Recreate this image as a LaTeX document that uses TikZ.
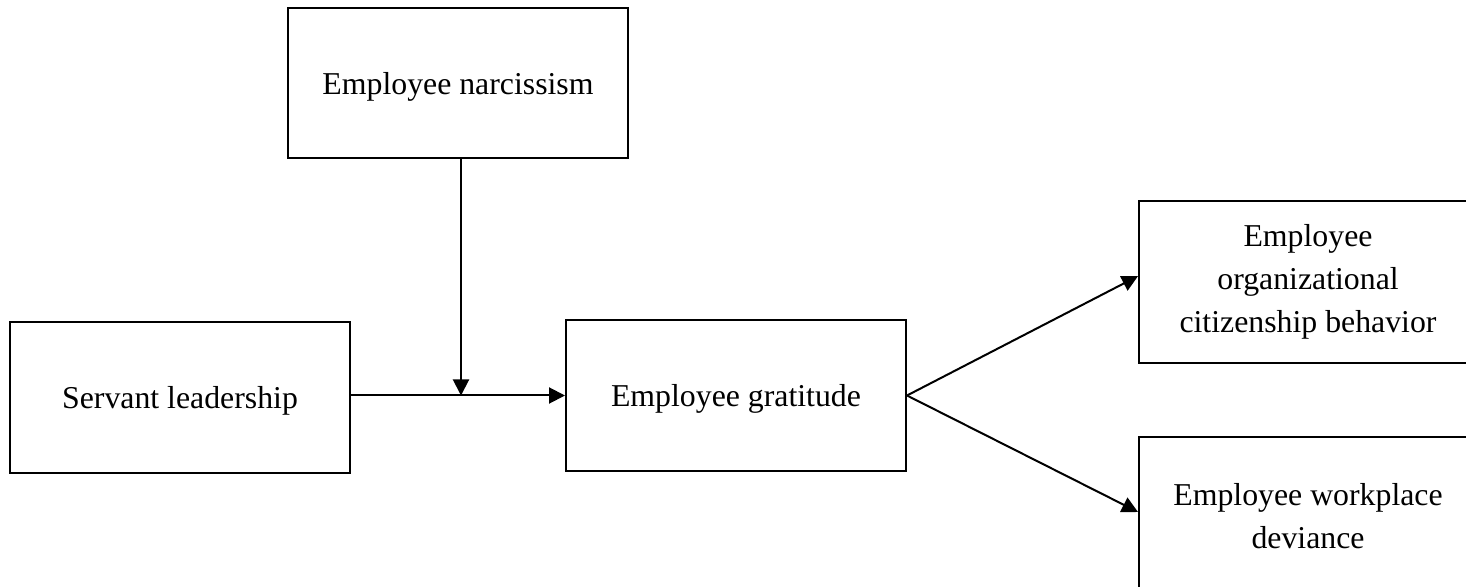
\documentclass[tikz,border=0pt]{standalone}
\usepackage{fontspec}
\setmainfont{Liberation Serif}
\usetikzlibrary{arrows.meta}
\begin{document}
\begin{tikzpicture}[x=0.5pt,y=-0.5pt,
  box/.style={draw=black,line width=1pt,rectangle,align=center,inner sep=0pt,
    font=\fontsize{15.9}{21.5}\selectfont},
  onebox/.style={box,text depth=0pt},
  conn/.style={line width=1pt,-{Triangle[length=8pt,width=8pt]}}]
\useasboundingbox (0,0) rectangle (1466,587);
\clip (0,0) rectangle (1466,587);
\node[onebox,minimum width=170pt,minimum height=75pt] (narc) at (458,83) {Employee narcissism};
\node[onebox,minimum width=170pt,minimum height=75.3pt] (serv) at (180,397.8) {Servant leadership};
\node[onebox,minimum width=170pt,minimum height=75.3pt] (grat) at (736,395.5) {Employee gratitude};
\node[box,minimum width=169pt,minimum height=81pt] (ocb) at (1308,281.7) {Employee\\organizational\\citizenship behavior};
\node[box,minimum width=169pt,minimum height=79pt] (dev) at (1308,516) {Employee workplace\\deviance};
\coordinate (n) at ([xshift=1.5pt]narc.south);
\coordinate (m) at (grat.west -| n);
\draw[conn] (grat.west -| serv.east) -- (grat.west);
\draw[conn] (n) -- (m);
\draw[conn] (grat.east) -- ([yshift=2.8pt]ocb.west);
\draw[conn] (grat.east) -- ([yshift=2pt]dev.west);
\end{tikzpicture}
\end{document}
